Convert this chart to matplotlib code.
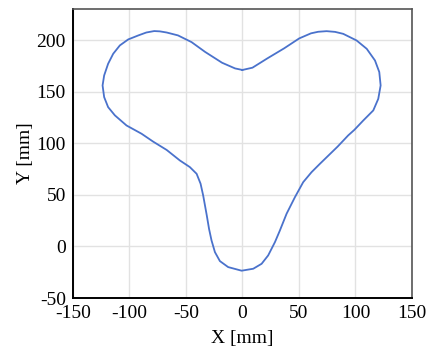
import matplotlib
matplotlib.use("Agg")
from matplotlib import pyplot as plt

# outline, going left from the centre dip
x_mm = [0, -6.5, -18, -33, -45, -57, -67, -73, -78, -85, -92, -101, -108.4, -114.3, -118.8,
        -122.3, -123.7, -122.3, -118.8, -112.8, -102.5, -89.2, -79, -67, -55.3, -46.5, -40.5,
        -37, -34.7, -31.5, -29.5, -27.3, -24.3, -19.9, -12.6, -0.7, 9.6, 17, 22.8, 28.8, 33,
        39.1, 46.5, 53.8, 61.2, 68.6, 84.3, 93.6, 99.1, 106.9, 115.8, 120.2, 122.3, 121.1,
        117.3, 110, 101, 89.2, 82, 74.5, 67, 60.7, 50.3, 37, 22.2, 8.9, 0]
y_mm = [171, 172.5, 178, 188.5, 198, 204.5, 207.3, 208.4, 208.7, 207.3, 204.5, 200.6, 194.8,
        186.7, 177, 165.7, 156, 144.7, 135, 127, 117.2, 109.2, 101.6, 93.5, 83.3, 76.9,
        70.4, 60.8, 49.4, 30, 17, 5.8, -5.5, -14.2, -20, -23.5, -21.6, -16.8, -8.7, 4.2, 15,
        31.7, 47.8, 62.3, 72, 80.1, 96.8, 107.6, 113, 122, 131.8, 143, 156, 169, 180.2,
        191.5, 199.6, 206, 207.9, 208.6, 208, 206.5, 201.6, 192, 182.3, 173.2, 171]

x_ticks = [-150, -100, -50, 0, 50, 100, 150]
y_ticks = [-50, 0, 50, 100, 150, 200]


def main():
    plt.rcParams.update({"font.family": "Liberation Serif", "font.size": 14,
                         "axes.unicode_minus": False})
    figure = plt.figure(figsize=(4.26, 3.49), dpi=100)
    ax = figure.add_axes([0.171, 0.146, 0.796, 0.828])

    ax.plot(x_mm, y_mm, color="#4a72cc", linewidth=1.3,
            solid_joinstyle="round", solid_capstyle="round")

    ax.set_xlim(-150, 150)
    ax.set_ylim(-50, 230)
    ax.set_xticks(x_ticks)
    ax.set_yticks(y_ticks)
    ax.grid(True, color="#e2e2e2", linewidth=1.0)
    ax.set_axisbelow(True)
    ax.tick_params(length=0, pad=5)

    for side in ["left", "bottom"]:
        ax.spines[side].set_color("black")
        ax.spines[side].set_linewidth(1.4)
    for side in ["top", "right"]:
        ax.spines[side].set_color("#555555")
        ax.spines[side].set_linewidth(1.2)

    ax.set_xlabel("X [mm]", labelpad=6)
    ax.set_ylabel("Y [mm]", labelpad=2)

    figure.savefig("out.png", dpi=100)


if __name__ == '__main__':
    main()
